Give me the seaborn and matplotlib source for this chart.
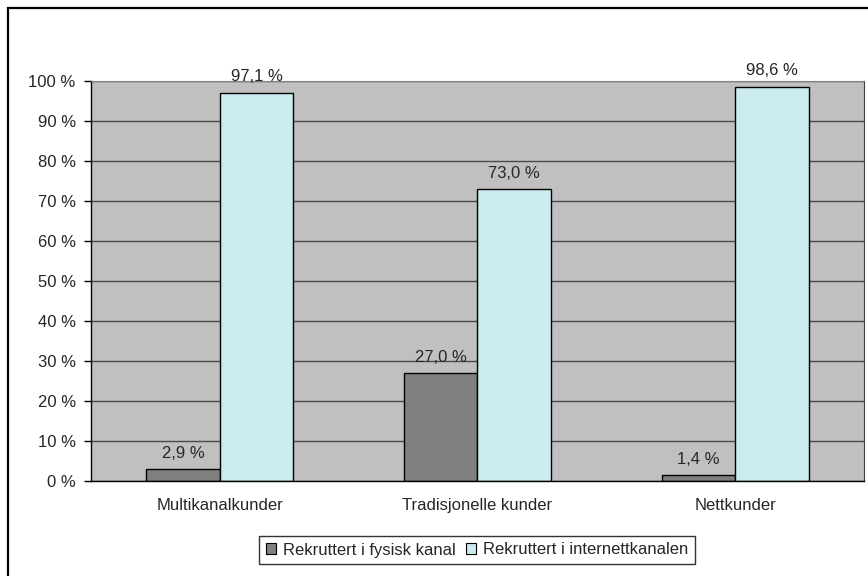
import matplotlib
matplotlib.use("Agg")
import matplotlib.pyplot as plt
from matplotlib.patches import Rectangle, Patch
import seaborn as sns
import pandas as pd

# Data
categories = ["Multikanalkunder", "Tradisjonelle kunder", "Nettkunder"]
series_names = ["Rekruttert i fysisk kanal", "Rekruttert i internettkanalen"]
fysisk = [2.9, 27.0, 1.4]
internett = [97.1, 73.0, 98.6]
y_ticks = [0, 10, 20, 30, 40, 50, 60, 70, 80, 90, 100]

df = pd.DataFrame({
    "kategori": categories * 2,
    "serie": [series_names[0]] * 3 + [series_names[1]] * 3,
    "andel": fysisk + internett,
})

colors = ["#808080", "#CCEBF0"]
FS = 12

sns.set_style("white")
plt.rcParams["font.family"] = ["Liberation Sans", "DejaVu Sans"]
plt.rcParams["font.size"] = FS

W, H = 868, 576
fig = plt.figure(figsize=(W / 100, H / 100), dpi=100)
ax = fig.add_axes([91 / W, 1 - 481 / H, 773 / W, 400 / H])

sns.barplot(data=df, x="kategori", y="andel", hue="serie",
            palette=colors, width=0.57, gap=0, edgecolor="black",
            linewidth=1, saturation=1, ax=ax, legend=False)

ax.set_facecolor("#C0C0C0")
ax.set_ylim(0, 100)
ax.set_xlim(-0.5, 2.5)
ax.set_yticks(y_ticks)
ax.set_yticklabels([f"{t} %" for t in y_ticks])
ax.yaxis.grid(True, color="#4A4A4A", linewidth=1)
ax.set_axisbelow(True)
ax.set_xlabel("")
ax.set_ylabel("")

# category separators as outward ticks
ax.set_xticks([-0.5, 0.5, 1.5, 2.5], minor=True)
ax.tick_params(axis="x", which="major", length=0, pad=12, labelsize=FS)
ax.tick_params(axis="x", which="minor", length=5, width=1, color="black", direction="out")
ax.tick_params(axis="y", length=5, width=1, color="black", direction="out", left=True, pad=6, labelsize=FS)

for side in ["left", "bottom"]:
    ax.spines[side].set_color("black")
    ax.spines[side].set_linewidth(1)
ax.spines["top"].set_color("#808080")
ax.spines["right"].set_color("#404040")

# value labels
for container, vals in zip(ax.containers, [fysisk, internett]):
    ax.bar_label(container,
                 labels=[f"{v:.1f} %".replace(".", ",") for v in vals],
                 padding=6, fontsize=FS)

handles = [Patch(facecolor=c, edgecolor="black", linewidth=0.8) for c in colors]
leg = fig.legend(handles, series_names, loc="center", bbox_to_anchor=(477 / W, 1 - 550 / H),
                 ncol=2, frameon=True, fancybox=False, fontsize=FS,
                 handlelength=0.6, handleheight=0.6, handletextpad=0.45,
                 columnspacing=0.6, borderpad=0.4, borderaxespad=0)
leg.get_frame().set_edgecolor("black")
leg.get_frame().set_linewidth(1)

# chart area border
fig.patches.append(Rectangle((8 / W, -0.1), 1.2, 1 - 8 / H + 0.1,
                             transform=fig.transFigure, fill=False,
                             edgecolor="black", linewidth=1.6))

fig.savefig("out.png", dpi=100)
